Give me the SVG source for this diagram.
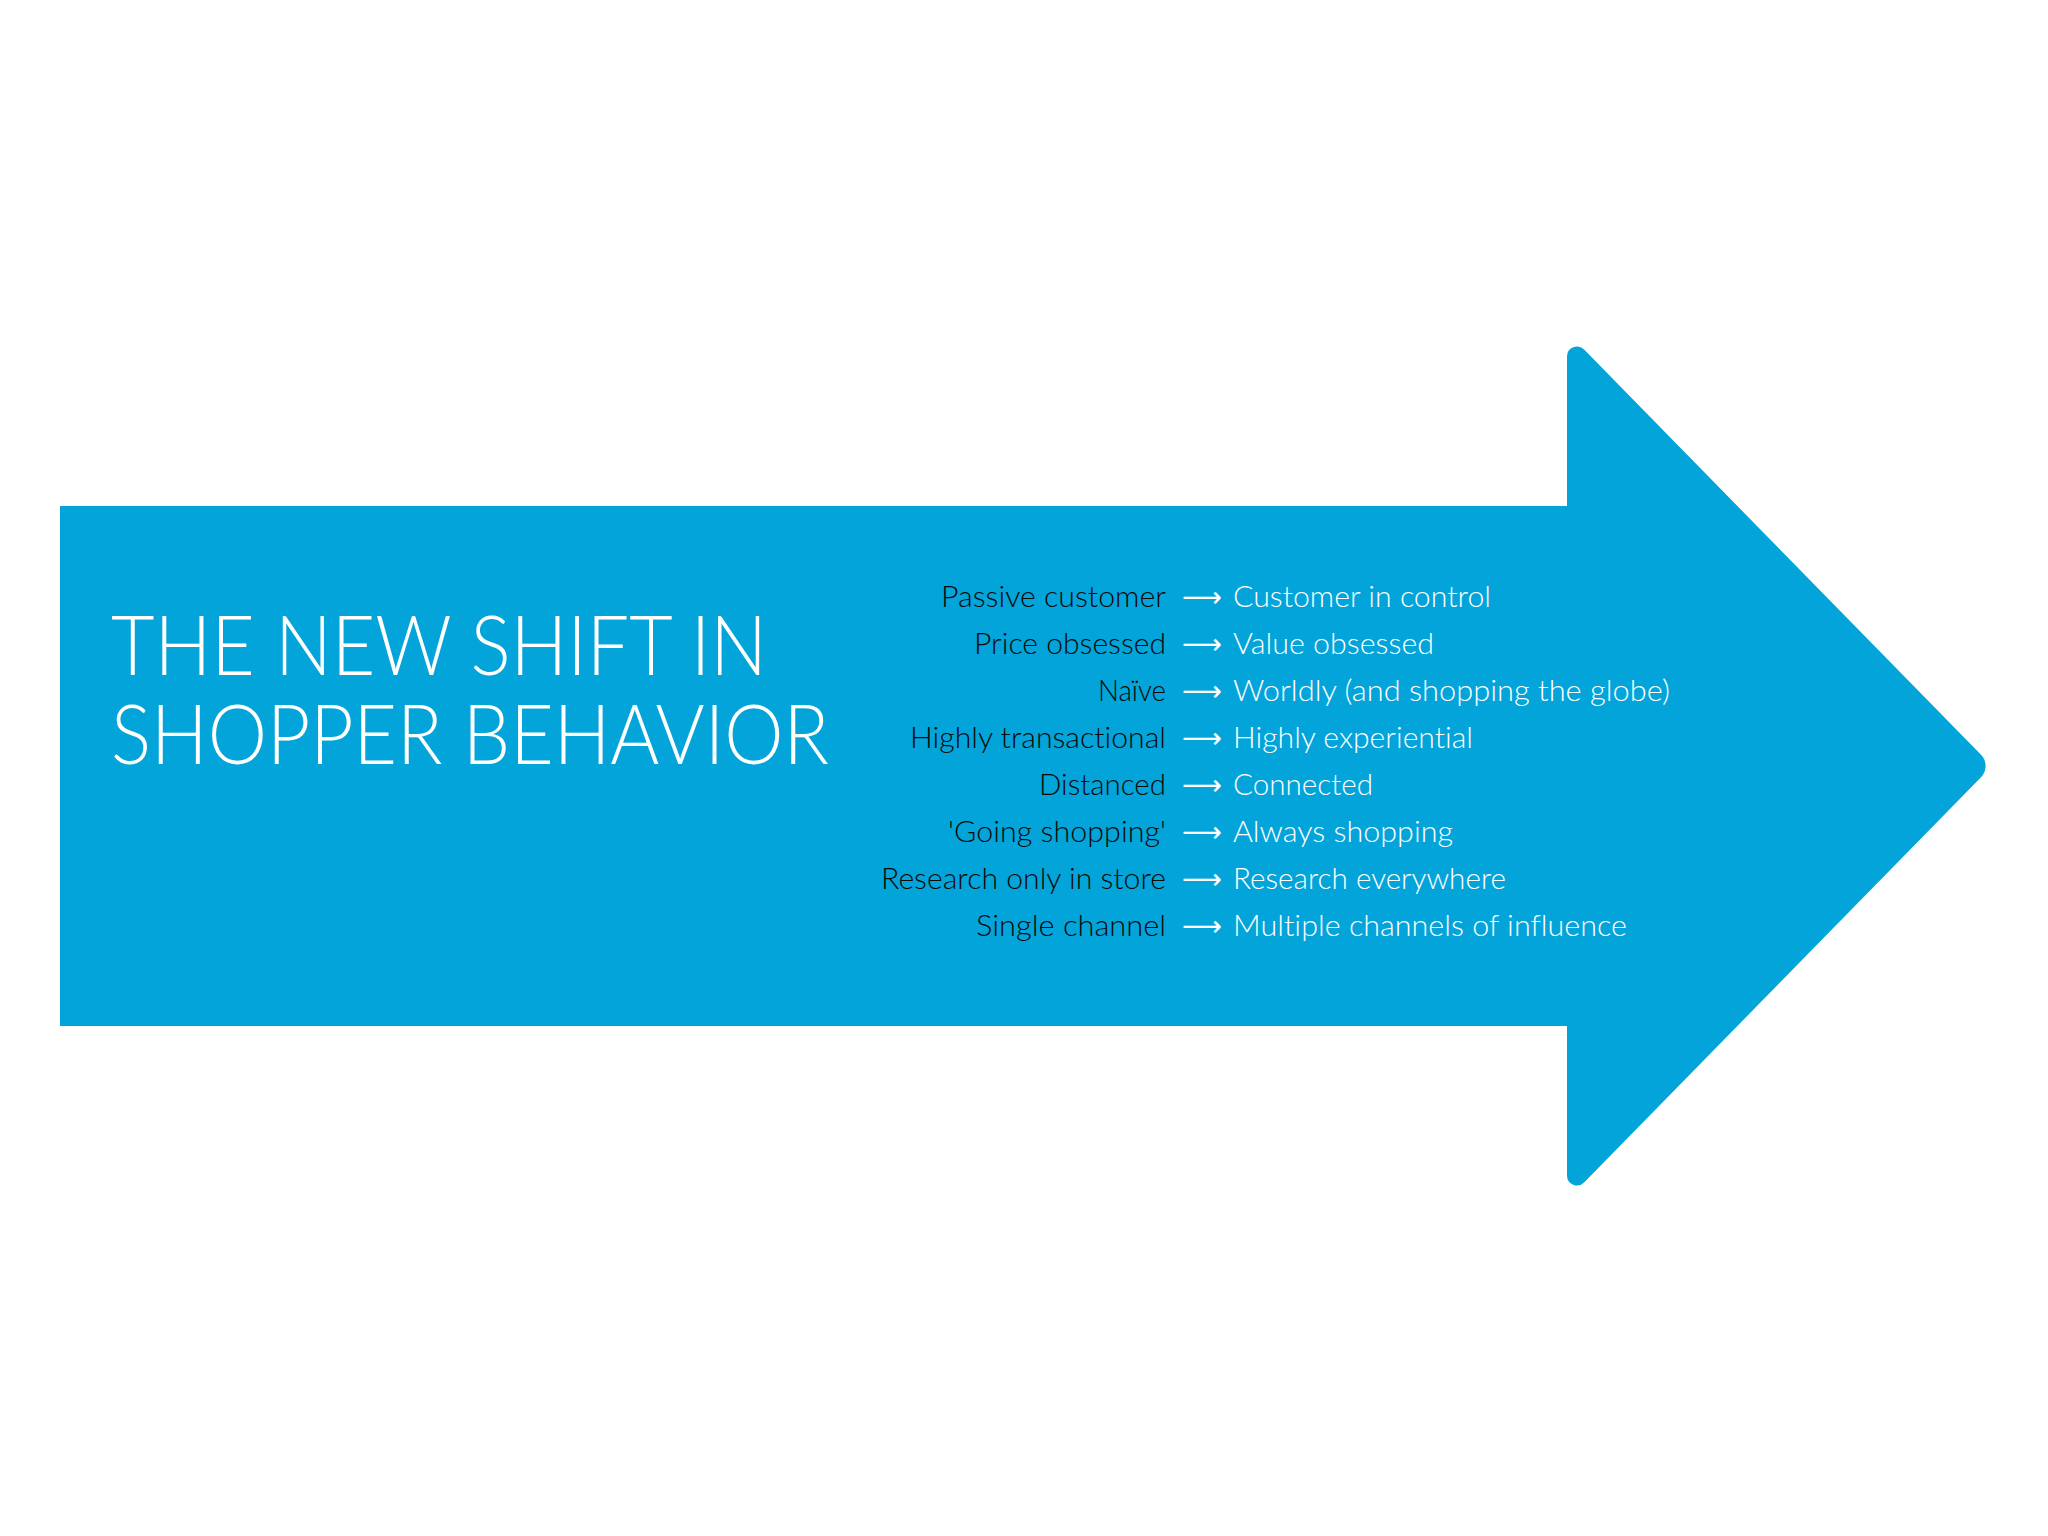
<svg xmlns="http://www.w3.org/2000/svg" width="2048" height="1536" viewBox="0 0 2048 1536">
<style>
text{font-variant-ligatures:none;font-feature-settings:"liga" 0,"dlig" 0}
.title{font-family:Lato,"Liberation Sans",sans-serif;font-weight:300;font-size:82px;fill:#ffffff}
.from{font-family:Lato,"Liberation Sans",sans-serif;font-weight:300;font-size:29px;fill:#0a0a0a;text-anchor:end}
.to{font-family:Lato,"Liberation Sans",sans-serif;font-weight:300;font-size:29px;fill:#ffffff}
.arr{font-family:"DejaVu Sans",sans-serif;font-size:29px;fill:#ffffff}
</style>
<rect width="2048" height="1536" fill="#ffffff"/>
<g id="big-arrow">
<path d="M60,506 H1567 V356.5 A10,10 0 0 1 1584.1,349.5 L1981,754.8 A16,16 0 0 1 1981,777.2 L1584.1,1182.5 A10,10 0 0 1 1567,1175.5 V1026 H60 Z" fill="#02A4D9"/>
</g>
<g id="title">
<text class="title" x="111" y="675" textLength="656" lengthAdjust="spacingAndGlyphs">THE NEW SHIFT IN</text>
<text class="title" x="111" y="764" textLength="718" lengthAdjust="spacingAndGlyphs">SHOPPER BEHAVIOR</text>
</g>
<g id="row1"><text class="from" x="1166" y="607" textLength="225" lengthAdjust="spacingAndGlyphs">Passive customer</text><text class="to" x="1233" y="607" textLength="258" lengthAdjust="spacingAndGlyphs">Customer in control</text></g>
<g id="row2"><text class="from" x="1166" y="654" textLength="192" lengthAdjust="spacingAndGlyphs">Price obsessed</text><text class="to" x="1233" y="654" textLength="201" lengthAdjust="spacingAndGlyphs">Value obsessed</text></g>
<g id="row3"><text class="from" x="1166" y="701" textLength="68" lengthAdjust="spacingAndGlyphs">Naïve</text><text class="to" x="1233" y="701" textLength="437" lengthAdjust="spacingAndGlyphs">Worldly (and shopping the globe)</text></g>
<g id="row4"><text class="from" x="1166" y="748" textLength="256" lengthAdjust="spacingAndGlyphs">Highly transactional</text><text class="to" x="1233" y="748" textLength="240" lengthAdjust="spacingAndGlyphs">Highly experiential</text></g>
<g id="row5"><text class="from" x="1166" y="795" textLength="127" lengthAdjust="spacingAndGlyphs">Distanced</text><text class="to" x="1233" y="795" textLength="140" lengthAdjust="spacingAndGlyphs">Connected</text></g>
<g id="row6"><text class="from" x="1166" y="842" textLength="218" lengthAdjust="spacingAndGlyphs">'Going shopping'</text><text class="to" x="1233" y="842" textLength="220" lengthAdjust="spacingAndGlyphs">Always shopping</text></g>
<g id="row7"><text class="from" x="1166" y="889" textLength="285" lengthAdjust="spacingAndGlyphs">Research only in store</text><text class="to" x="1233" y="889" textLength="273" lengthAdjust="spacingAndGlyphs">Research everywhere</text></g>
<g id="row8"><text class="from" x="1166" y="936" textLength="190" lengthAdjust="spacingAndGlyphs">Single channel</text><text class="to" x="1233" y="936" textLength="394" lengthAdjust="spacingAndGlyphs">Multiple channels of influence</text></g>
<g id="connectors">
<text class="arr" x="1182" y="607" textLength="40" lengthAdjust="spacingAndGlyphs">⟶</text>
<text class="arr" x="1182" y="654" textLength="40" lengthAdjust="spacingAndGlyphs">⟶</text>
<text class="arr" x="1182" y="701" textLength="40" lengthAdjust="spacingAndGlyphs">⟶</text>
<text class="arr" x="1182" y="748" textLength="40" lengthAdjust="spacingAndGlyphs">⟶</text>
<text class="arr" x="1182" y="795" textLength="40" lengthAdjust="spacingAndGlyphs">⟶</text>
<text class="arr" x="1182" y="842" textLength="40" lengthAdjust="spacingAndGlyphs">⟶</text>
<text class="arr" x="1182" y="889" textLength="40" lengthAdjust="spacingAndGlyphs">⟶</text>
<text class="arr" x="1182" y="936" textLength="40" lengthAdjust="spacingAndGlyphs">⟶</text>
</g>
</svg>
